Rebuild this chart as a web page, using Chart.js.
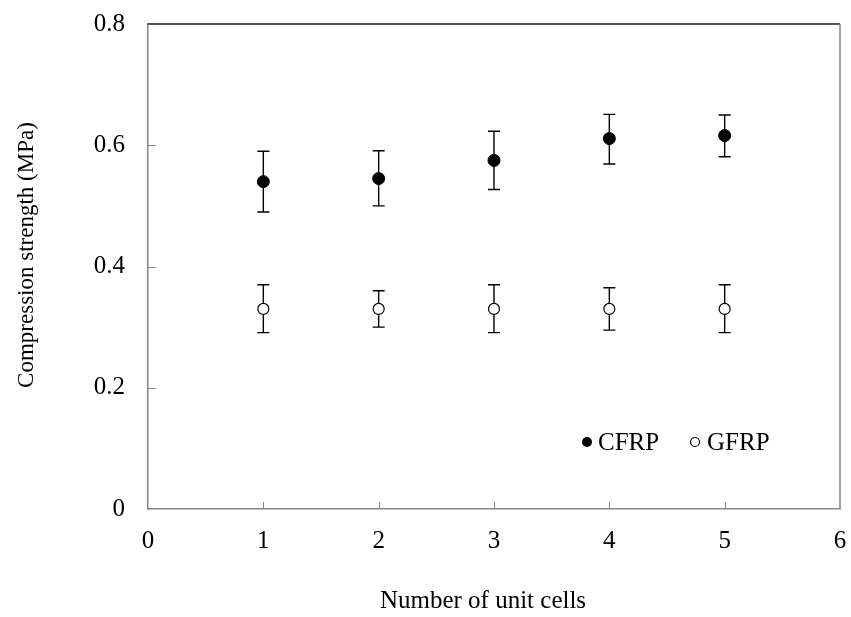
<!DOCTYPE html>
<html>
<head>
<meta charset="utf-8">
<script src="https://cdn.jsdelivr.net/npm/chart.js@4"></script>
<style>
  html, body { margin: 0; padding: 0; background: #fff; }
  #wrap { width: 851px; height: 617px; }
</style>
</head>
<body>
<div id="wrap"><canvas id="chart" width="851" height="617"></canvas></div>
<script>
const cells = [1, 2, 3, 4, 5];
const cfrp = [0.540, 0.545, 0.575, 0.611, 0.616];
const cfrpLow = [0.490, 0.500, 0.527, 0.569, 0.581];
const cfrpHigh = [0.590, 0.591, 0.623, 0.651, 0.650];
const gfrp = [0.330, 0.330, 0.330, 0.330, 0.330];
const gfrpLow = [0.291, 0.300, 0.291, 0.295, 0.291];
const gfrpHigh = [0.370, 0.360, 0.370, 0.365, 0.370];
const xTicks = [0, 1, 2, 3, 4, 5, 6];
const yTicks = [0, 0.2, 0.4, 0.6, 0.8];
const xTitle = 'Number of unit cells';
const yTitle = 'Compression strength (MPa)';

const font = 'Liberation Serif, Times New Roman, serif';
const fontSize = 25;
const axisGrey = '#868686';

function points(ys) {
  return cells.map((c, i) => ({x: c, y: ys[i]}));
}

// no extra room for overflowing tick labels, the layout padding sets the plot box
function noPad(scale) {
  scale.paddingTop = 0;
  scale.paddingBottom = 0;
  scale.paddingLeft = 0;
  scale.paddingRight = 0;
}

// error bars, inward tick marks, top/right frame, axis titles, legend inside the plot
const extras = {
  id: 'extras',
  beforeDatasetsDraw(chart) {
    const {ctx, chartArea: a, scales: {x, y}} = chart;
    ctx.save();
    ctx.lineWidth = 1.5;
    // frame: top and right
    ctx.strokeStyle = '#1a1a1a';
    ctx.beginPath();
    ctx.moveTo(a.left, a.top);
    ctx.lineTo(a.right, a.top);
    ctx.stroke();
    ctx.strokeStyle = axisGrey;
    ctx.beginPath();
    ctx.moveTo(a.right, a.top);
    ctx.lineTo(a.right, a.bottom);
    ctx.stroke();
    // inward ticks
    ctx.lineWidth = 1;
    ctx.beginPath();
    xTicks.slice(1, -1).forEach(v => {
      const px = Math.round(x.getPixelForValue(v)) + 0.5;
      ctx.moveTo(px, a.bottom);
      ctx.lineTo(px, a.bottom - 7);
    });
    yTicks.slice(1, -1).forEach(v => {
      const py = Math.round(y.getPixelForValue(v)) + 0.5;
      ctx.moveTo(a.left, py);
      ctx.lineTo(a.left + 8, py);
    });
    ctx.stroke();
    // error bars
    ctx.strokeStyle = '#000';
    ctx.lineWidth = 1.4;
    [[cfrpLow, cfrpHigh], [gfrpLow, gfrpHigh]].forEach(([lo, hi]) => {
      cells.forEach((c, i) => {
        const px = x.getPixelForValue(c);
        const y1 = y.getPixelForValue(lo[i]);
        const y2 = y.getPixelForValue(hi[i]);
        ctx.beginPath();
        ctx.moveTo(px, y1); ctx.lineTo(px, y2);
        ctx.moveTo(px - 6, y1); ctx.lineTo(px + 6, y1);
        ctx.moveTo(px - 6, y2); ctx.lineTo(px + 6, y2);
        ctx.stroke();
      });
    });
    ctx.restore();
  },
  afterDraw(chart) {
    const {ctx} = chart;
    const ds = chart.data.datasets;
    const ly = 442;
    ctx.save();
    ctx.fillStyle = '#000';
    // axis titles
    ctx.font = fontSize + 'px ' + font;
    ctx.textAlign = 'center';
    ctx.textBaseline = 'alphabetic';
    ctx.fillText(xTitle, 483, 608);
    ctx.save();
    ctx.translate(33, 255);
    ctx.rotate(-Math.PI / 2);
    ctx.font = '23px ' + font;
    ctx.fillText(yTitle, 0, 0);
    ctx.restore();
    // legend
    ctx.textBaseline = 'middle';
    ctx.textAlign = 'left';
    ctx.beginPath();
    ctx.arc(587, ly, 5, 0, Math.PI * 2);
    ctx.fill();
    ctx.fillText(ds[0].label, 598, ly + 1);
    ctx.beginPath();
    ctx.lineWidth = 1.2;
    ctx.strokeStyle = '#000';
    ctx.arc(695, ly, 4.5, 0, Math.PI * 2);
    ctx.stroke();
    ctx.fillText(ds[1].label, 707, ly + 1);
    ctx.restore();
  }
};

new Chart(document.getElementById('chart'), {
  type: 'scatter',
  data: {
    datasets: [{
      label: 'CFRP',
      data: points(cfrp),
      pointRadius: 6,
      pointBackgroundColor: '#000',
      pointBorderColor: '#000',
      pointBorderWidth: 1
    }, {
      label: 'GFRP',
      data: points(gfrp),
      pointRadius: 5.5,
      pointBackgroundColor: '#fff',
      pointBorderColor: '#000',
      pointBorderWidth: 1.2
    }]
  },
  options: {
    responsive: false,
    animation: false,
    layout: {
      padding: {top: 24, right: 11, left: 0, bottom: 0}
    },
    scales: {
      x: {
        type: 'linear',
        min: 0,
        max: 6,
        afterFit(scale) { scale.height = 108; noPad(scale); },
        afterBuildTicks(scale) { scale.ticks = xTicks.map(v => ({value: v})); },
        grid: {display: false, drawTicks: false},
        border: {display: true, color: axisGrey, width: 1.5},
        ticks: {
          color: '#000',
          padding: 17,
          font: {family: font, size: fontSize}
        }
      },
      y: {
        min: 0,
        max: 0.8,
        afterFit(scale) { scale.width = 148; noPad(scale); },
        afterBuildTicks(scale) { scale.ticks = yTicks.map(v => ({value: v})); },
        grid: {display: false, drawTicks: false},
        border: {display: true, color: axisGrey, width: 1.5},
        ticks: {
          color: '#000',
          padding: 23,
          font: {family: font, size: fontSize},
          callback: v => String(Math.round(v * 10) / 10)
        }
      }
    },
    plugins: {
      legend: {display: false},
      tooltip: {enabled: false}
    }
  },
  plugins: [extras]
});
</script>
</body>
</html>
